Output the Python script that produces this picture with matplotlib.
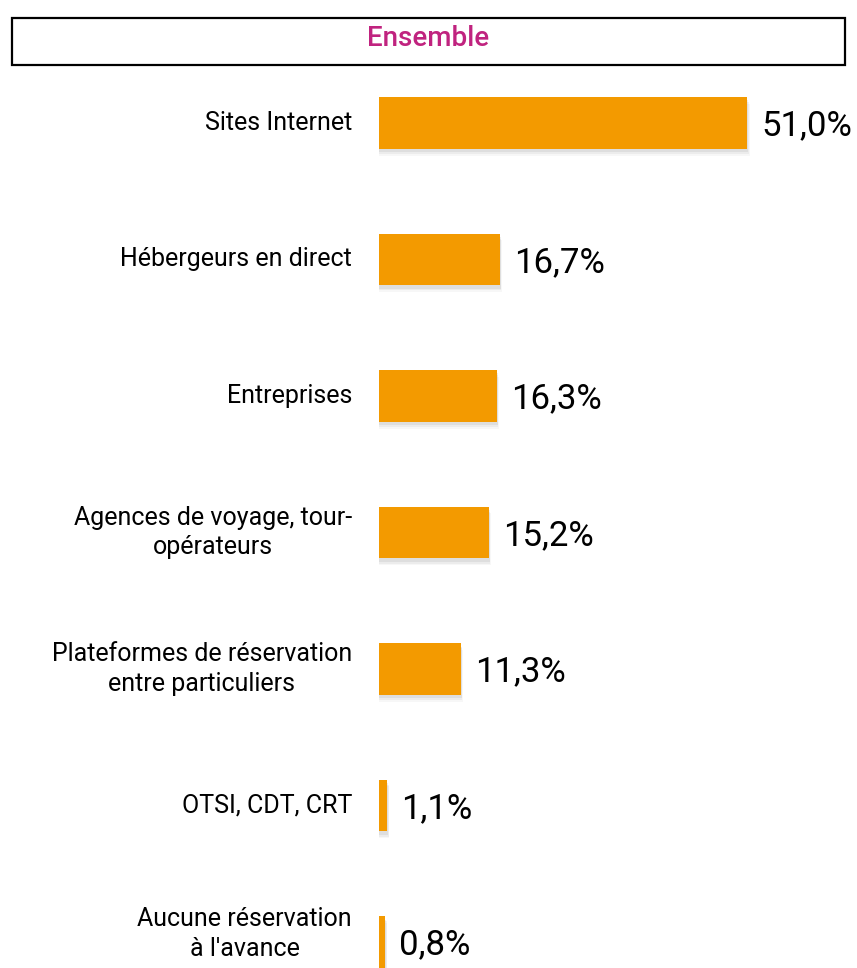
import matplotlib
matplotlib.use('Agg')
import matplotlib.pyplot as plt
from matplotlib.patches import Rectangle
from matplotlib.transforms import blended_transform_factory

categories = ['Sites Internet', 'Hébergeurs en direct', 'Entreprises',
              'Agences de voyage, tour-\nopérateurs',
              'Plateformes de réservation\nentre particuliers',
              'OTSI, CDT, CRT', "Aucune réservation\nà l'avance"]
values = [51.0, 16.7, 16.3, 15.2, 11.3, 1.1, 0.8]
title = 'Ensemble'

plt.rcParams['font.family'] = ['Roboto', 'DejaVu Sans']
orange = '#F39A00'
magenta = '#C0237F'

fig = plt.figure(figsize=(8.57, 9.68), dpi=100)
ax = fig.add_axes([379/857, 0, 478/857, (968-70)/968])

y = list(range(len(categories)))
h = 0.38
# soft shadow under the bars
for k, a in enumerate([0.12, 0.09, 0.06]):
    off = 0.015 + 0.012*k
    ax.barh([v + off + 0.01 for v in y], [v + 0.15 + 0.1*k for v in values],
            height=h, color='gray', alpha=a, linewidth=0, zorder=1)
ax.barh(y, values, height=h, color=orange, linewidth=0, zorder=2)

for yi, v in zip(y, values):
    ax.text(v + 2.0, yi + 0.02, f'{v:.1f}%'.replace('.', ','), va='center', ha='left',
            fontsize=25, color='black')

# category labels, right-aligned block, centred lines
trans = blended_transform_factory(ax.transAxes, ax.transData)
for i, (yi, lab) in enumerate(zip(y, categories)):
    dy = -0.06 if i == len(categories) - 1 else 0
    ax.text(-27/478, yi + dy, lab, transform=trans, ha='right', va='center',
            multialignment='center', linespacing=1.3, fontsize=18, color='black')

ax.set_xlim(0, 478/7.216)
ax.set_ylim(6.19, -0.388)
ax.set_yticks([])
ax.set_xticks([])
for s in ax.spines.values():
    s.set_visible(False)

fig.patches.append(Rectangle((12/857, (968-65)/968), 833/857, 47/968,
                             transform=fig.transFigure, fill=False,
                             edgecolor='black', linewidth=1.6))
fig.text(0.5, (968-39)/968, title, ha='center', va='center', fontsize=20,
         fontweight='medium', color=magenta)

fig.savefig('out.png', dpi=100)
